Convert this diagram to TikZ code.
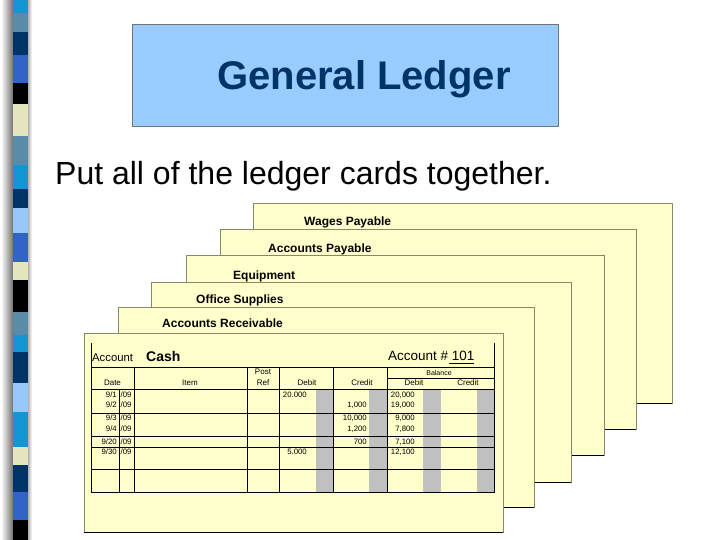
\documentclass[tikz,border=0pt]{standalone}
\usepackage{fontspec}
\setmainfont{Liberation Sans}
\definecolor{cardfill}{RGB}{255,255,204}
\definecolor{cardedge}{RGB}{135,135,105}
\definecolor{titlefill}{RGB}{153,204,255}
\definecolor{navy}{RGB}{0,51,102}
\definecolor{cyanb}{RGB}{20,150,210}
\definecolor{steel}{RGB}{90,140,170}
\definecolor{royal}{RGB}{50,100,200}
\definecolor{beige}{RGB}{230,230,190}
\definecolor{lightb}{RGB}{150,200,250}
\definecolor{barg}{RGB}{192,192,192}
\begin{document}
\begin{tikzpicture}[x=1pt,y=-1pt,
  card/.style={draw=cardedge, fill=cardfill, line width=0.8pt, minimum height=200pt, anchor=north west, inner sep=0pt, outer sep=0pt},
  cardlabel/.style={font=\fontsize{12}{14}\selectfont\bfseries, anchor=base west, inner sep=0pt},
  hdr/.style={font=\fontsize{8}{9}\selectfont, inner sep=0pt, anchor=base},
  num/.style={font=\fontsize{7.8}{9}\selectfont, inner sep=0pt, anchor=base east},
  numw/.style={font=\fontsize{7.8}{9}\selectfont, inner sep=0pt, anchor=base west},
  grid/.style={line width=0.8pt, black},
  bottomedge/.style={line width=1pt, black}]
\useasboundingbox (0,0) rectangle (720,540);
\fill[white] (0,0) rectangle (720,540);
% left strip
\shade[left color=white, right color=black!55] (1,0) rectangle (13,540);
\shade[left color=black!30, right color=white] (28,0) rectangle (32,540);
\foreach \a/\b/\c in {0/13/cyanb,13/32/steel,32/55/navy,55/83/royal,83/104/black,104/136/beige,136/165/steel,165/189/cyanb,189/208/navy,208/233/lightb,233/262/royal,262/280/beige,280/312/black,312/335/steel,335/352/cyanb,352/383/navy,383/412/lightb,412/447/cyanb,447/465/beige,465/492/navy,492/520/royal,520/540/black}
  \fill[\c] (13,\a) rectangle (28,\b);
% title
\node[draw=black!55, fill=titlefill, line width=0.8pt, minimum width=426pt, minimum height=102pt, anchor=north west, inner sep=0pt] (titlebox) at (132,24) {};
\node[font=\fontsize{40}{46}\selectfont\bfseries, text=navy, anchor=base west, inner sep=0pt] (title) at (217,90) {General Ledger};
\node[font=\fontsize{32}{38}\selectfont, anchor=base west, inner sep=0pt] (subtitle) at (55,185) {Put all of the ledger cards together.};
% cards, back to front
\node[card, minimum width=419pt] (wages) at (253,203) {};
\draw[bottomedge] (wages.south west) -- (wages.south east);
\node[cardlabel] (lwages) at (304,225.3) {Wages Payable};
\node[card, minimum width=416pt] (ap) at (220,229) {};
\draw[bottomedge] (ap.south west) -- (ap.south east);
\node[cardlabel] (lap) at (268,252.3) {Accounts Payable};
\node[card, minimum width=418pt] (equip) at (186,255) {};
\draw[bottomedge] (equip.south west) -- (equip.south east);
\node[cardlabel] (lequip) at (233,279.3) {Equipment};
\node[card, minimum width=420pt] (os) at (151,282) {};
\draw[bottomedge] (os.south west) -- (os.south east);
\node[cardlabel] (los) at (196,303.3) {Office Supplies};
\node[card, minimum width=416pt] (ar) at (118,307) {};
\draw[bottomedge] (ar.south west) -- (ar.south east);
\node[cardlabel] (lar) at (162,327.3) {Accounts Receivable};
\node[card, minimum width=419pt, minimum height=199pt] (cash) at (84,333) {};
\draw[bottomedge] (cash.south west) -- (cash.south east);
% cash card content
\node[font=\fontsize{11.3}{13}\selectfont, anchor=base west, inner sep=0pt] (acct) at (92,361) {Account};
\node[font=\fontsize{14}{16}\selectfont\bfseries, anchor=base west, inner sep=0pt] (acname) at (146,361.5) {Cash};
\node[font=\fontsize{13.5}{15}\selectfont, anchor=base west, inner sep=0pt] (acnum) at (388,360) {Account \# 101};
\draw[line width=0.8pt] (449,363.5) -- (474,363.5);
% grey bars
\foreach \a/\b in {316/333,369/387,423/441,477/494}
  \fill[barg] (\a,389) rectangle (\b,492);
% grid
\draw[grid] (91,343) -- (91,492) -- (494,492) -- (494,343);
\foreach \yy in {367,389,413,436,447,469}
  \draw[grid] (91,\yy) -- (494,\yy);
\draw[grid] (387,378) -- (494,378);
\draw[grid] (119,389) -- (119,492);
\foreach \xx in {134,247,279,333,387}
  \draw[grid] (\xx,367) -- (\xx,492);
% headers
\node[hdr] (hdate) at (112.5,385.5) {Date};
\node[hdr] (hitem) at (190,385.5) {Item};
\node[hdr] (hpost) at (263,374.5) {Post};
\node[hdr] (href) at (263,385.5) {Ref};
\node[hdr] (hdebit) at (307,385.5) {Debit};
\node[hdr] (hcredit) at (362,385.5) {Credit};
\node[hdr, font=\fontsize{7}{8}\selectfont] (hbal) at (439,375) {Balance};
\node[hdr] (hbdebit) at (414,385.5) {Debit};
\node[hdr] (hbcredit) at (468,385.5) {Credit};
% rows
\node[num] (d1) at (117,397.7) {9/1};  \node[numw] (y1) at (120.5,397.7) {/09};
\node[num] (d2) at (117,407.7) {9/2};  \node[numw] (y2) at (120.5,407.7) {/09};
\node[num] (d3) at (117,420.2) {9/3};  \node[numw] (y3) at (120.5,420.2) {/09};
\node[num] (d4) at (117,431.5) {9/4};  \node[numw] (y4) at (120.5,431.5) {/09};
\node[num] (d5) at (117,444.2) {9/20}; \node[numw] (y5) at (120.5,444.2) {/09};
\node[num] (d6) at (117,454.2) {9/30}; \node[numw] (y6) at (120.5,454.2) {/09};
\node[num] (dr1) at (307,397.7) {20.000};
\node[num] (dr6) at (307,454.2) {5.000};
\node[num] (cr2) at (367,407.7) {1,000};
\node[num] (cr3) at (367,420.2) {10,000};
\node[num] (cr4) at (367,431.5) {1,200};
\node[num] (cr5) at (367,444.2) {700};
\node[num] (b1) at (415,397.7) {20,000};
\node[num] (b2) at (415,407.7) {19,000};
\node[num] (b3) at (415,420.2) {9,000};
\node[num] (b4) at (415,431.5) {7,800};
\node[num] (b5) at (415,444.2) {7,100};
\node[num] (b6) at (415,454.2) {12,100};
\end{tikzpicture}
\end{document}
